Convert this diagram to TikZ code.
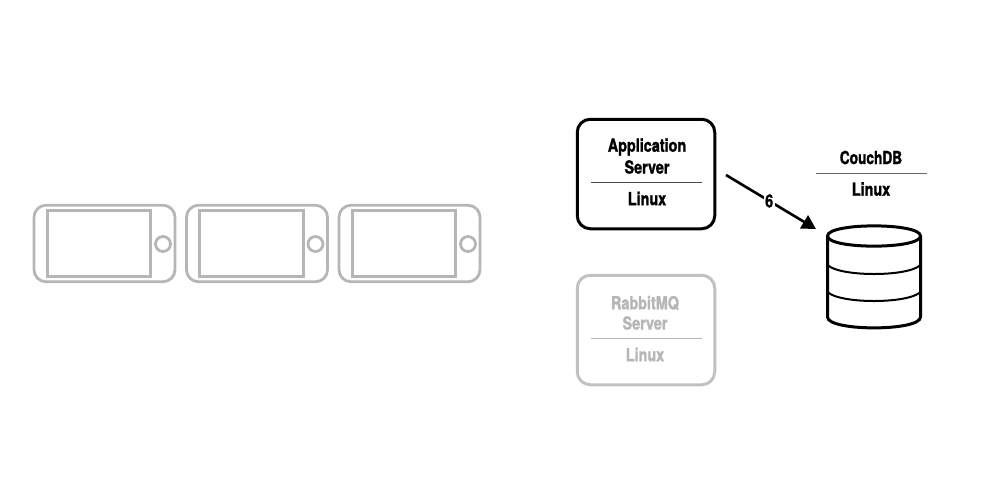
\documentclass[tikz,border=0pt]{standalone}
\usepackage{fontspec}
\setmainfont{TeX Gyre Heros}
\newfontfamily\labelfont[FakeStretch=0.80,FakeBold=1.4]{TeX Gyre Heros Bold}
\usetikzlibrary{arrows.meta}
\definecolor{fade}{HTML}{B6B6B6}
\tikzset{
  x=1pt,y=-1pt,
  phoneline/.style={draw=fade,line width=2.8pt},
  box/.style={draw,line width=3pt,rounded corners=13pt,minimum width=137.5pt,minimum height=109.5pt,inner sep=0pt},
  lbl/.style={font=\labelfont\fontsize{18}{18}\selectfont,inner sep=0pt,anchor=center},
  rule/.style={line width=0.7pt},
  dbline/.style={line width=3pt,line cap=round,line join=round},
  dbthin/.style={line width=2pt,line cap=round},
}
\newcommand{\phoneat}[2]{%
  \begin{scope}[shift={(#1,0)}]
    \node[phoneline,rounded corners=12pt,minimum width=141pt,minimum height=76.5pt,inner sep=0pt] (phone#2) at (104.5,243.5) {};
    \node[phoneline,minimum width=103.5pt,minimum height=66pt,inner sep=0pt] (screen#2) at (99,243.5) {};
    \node[phoneline,circle,minimum size=15pt,inner sep=0pt] (button#2) at (163,244) {};
  \end{scope}}
\begin{document}
\begin{tikzpicture}
\useasboundingbox (0,0) rectangle (1000,491);
\phoneat{0}{a}
\phoneat{152.5}{b}
\phoneat{305}{c}
% Application server
\node[box,draw=black] (app) at (646,174) {};
\node[lbl] (apptitle) at (647,147) {Application};
\node[lbl] (appsub) at (647,167) {Server};
\coordinate (appl) at (591,182.5);
\coordinate (appr) at (702,182.5);
\draw[rule,black!70] (appl) -- (appr);
\node[lbl] (applinux) at (647,198.5) {Linux};
% RabbitMQ
\node[box,draw=fade!85!white] (rab) at (646,330) {};
\node[lbl,text=fade] (rabtitle) at (645,303) {RabbitMQ};
\node[lbl,text=fade] (rabsub) at (645,323) {Server};
\coordinate (rabl) at (591,338.5);
\coordinate (rabr) at (702,338.5);
\draw[rule,fade] (rabl) -- (rabr);
\node[lbl,text=fade] (rablinux) at (645,354.5) {Linux};
% CouchDB
\node[lbl,xscale=0.95] (couch) at (871,157.5) {CouchDB};
\coordinate (dbl) at (816,173);
\coordinate (dbr) at (927,173);
\draw[rule,black!60] (dbl) -- (dbr);
\node[lbl] (dblinux) at (871,189) {Linux};
% Cylinder
\draw[dbline,fill=white] (827.5,236) .. controls (827.5,222.5) and (920.5,222.5) .. (920.5,236)
   .. controls (920.5,249.5) and (827.5,249.5) .. (827.5,236) -- cycle;
\draw[dbline] (827.5,236) -- (827.5,317) .. controls (827.5,331.5) and (920.5,331.5) .. (920.5,317) -- (920.5,236);
\draw[dbthin] (827.5,265) .. controls (840,277) and (908,277) .. (920.5,265);
\draw[dbthin] (827.5,292) .. controls (840,304) and (908,304) .. (920.5,292);
% Arrow
\coordinate (from) at (726,175);
\coordinate (to) at (816,229);
\draw[line width=2.6pt,-{Triangle[length=14pt,width=15pt]}] (from) -- node[pos=0.48,fill=white,inner sep=1.5pt,font=\labelfont\fontsize{18}{18}\selectfont] (six) {6} (to);
\end{tikzpicture}
\end{document}
